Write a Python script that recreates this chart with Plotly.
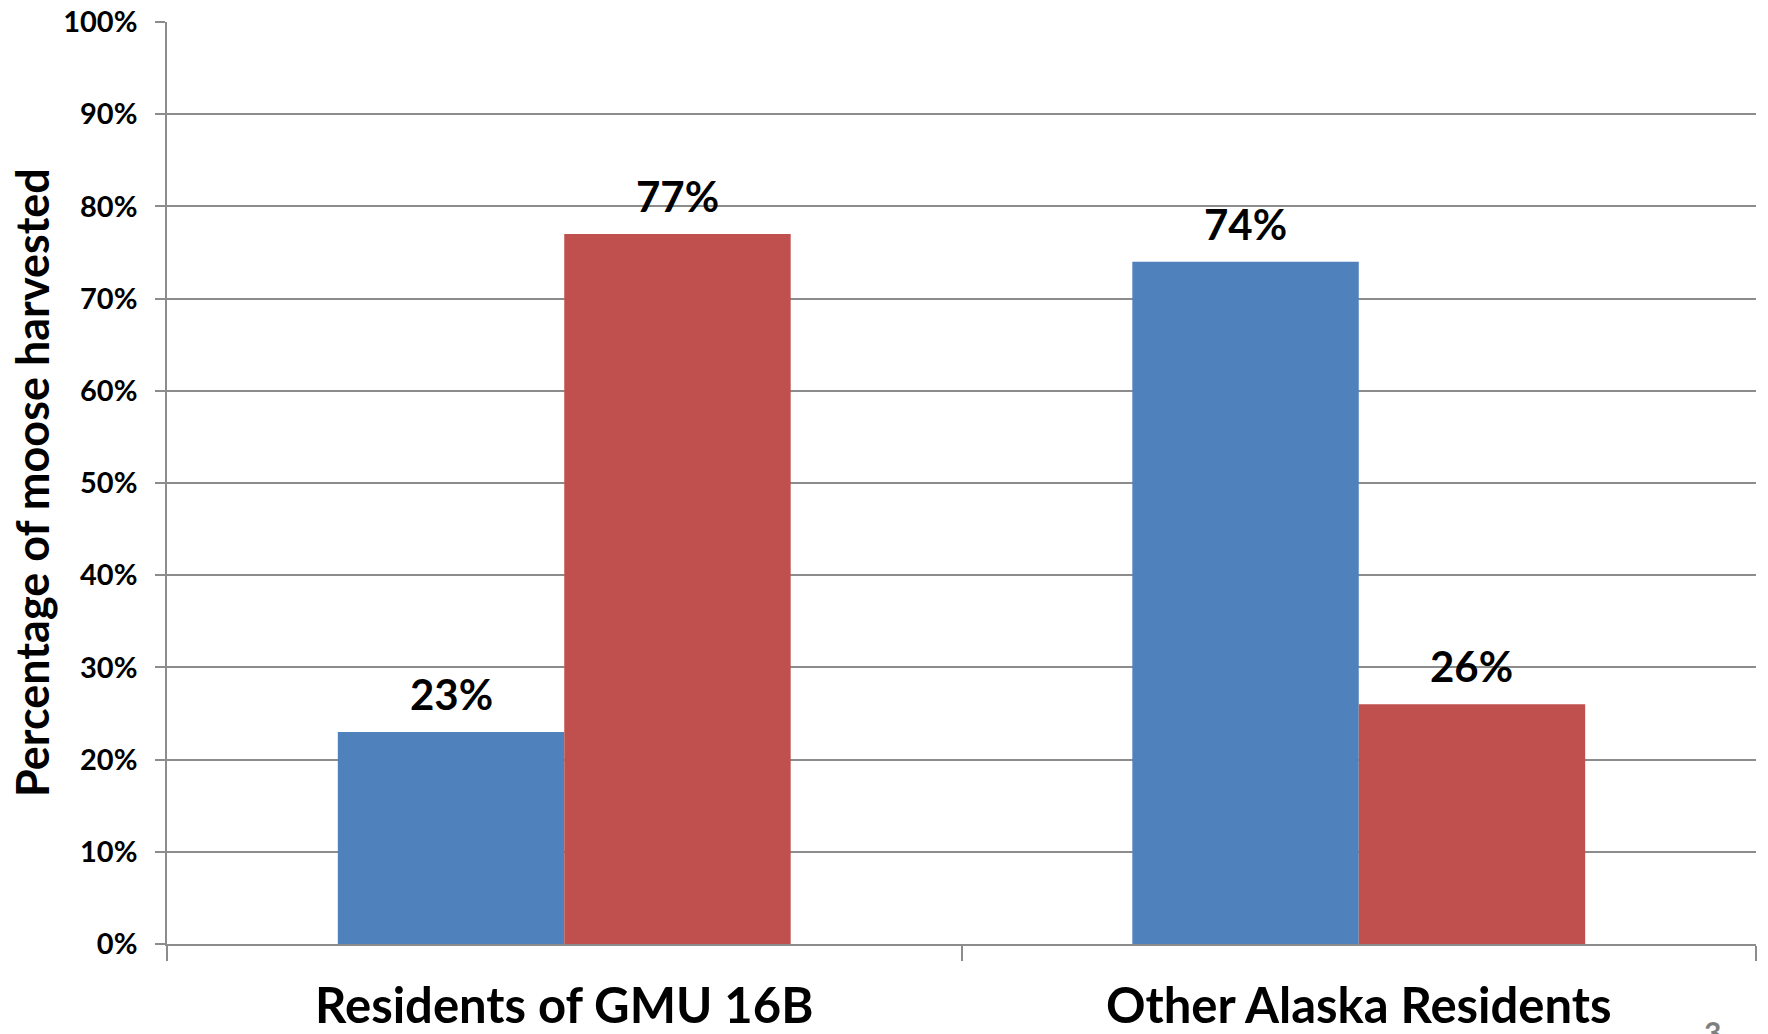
import plotly.graph_objects as go

categories = ["Residents of GMU 16B", "Other Alaska Residents"]
series_a = [23, 74]   # blue
series_b = [77, 26]   # red
tick_vals = [0, 10, 20, 30, 40, 50, 60, 70, 80, 90, 100]
tick_text = [f"{v}%" for v in tick_vals]

BLUE = "#4F81BD"
RED = "#C0504D"
GRID = "#8C8C8C"
FONT = "Lato"

fig = go.Figure()
fig.add_trace(go.Bar(x=categories, y=series_a, marker=dict(color=BLUE, line=dict(width=0)), name="A"))
fig.add_trace(go.Bar(x=categories, y=series_b, marker=dict(color=RED, line=dict(width=0)), name="B"))

W, H = 1768, 1034
ml, mr, mt, mb = 167, 12, 22, 90
bargap = 0.43
plot_w = W - ml - mr
plot_h = H - mt - mb
cat_w = plot_w / len(categories)
bar_w = cat_w * (1 - bargap) / 2

for i, c in enumerate(categories):
    for vals, sgn in ((series_a, -1), (series_b, 1)):
        fig.add_annotation(x=c, y=vals[i], xref="x", yref="y", text=f"<b>{vals[i]}%</b>",
                           showarrow=False, xshift=sgn * bar_w / 2, yshift=38,
                           yanchor="middle", font=dict(family=FONT, size=42, color="#000000"))

# slide page number, partly cut at the bottom edge like the reference
fig.add_annotation(x=(1702 - ml) / plot_w, y=-(1012 - (H - mb)) / plot_h, xref="paper", yref="paper",
                   text="<b>3</b>", showarrow=False, xanchor="left", yanchor="top",
                   font=dict(family=FONT, size=30, color="#7F7F7F"))

# y-axis title as rotated annotation
fig.add_annotation(x=-(167 - 32) / plot_w, y=0.5, xref="paper", yref="paper",
                   text="<b>Percentage of moose harvested</b>", textangle=-90, showarrow=False,
                   xanchor="center", yanchor="middle",
                   font=dict(family=FONT, size=45, color="#000000"))

fig.update_layout(
    width=W, height=H,
    margin=dict(l=ml, r=mr, t=mt, b=mb, autoexpand=False),
    barmode="group", bargap=bargap, bargroupgap=0,
    showlegend=False,
    plot_bgcolor="white", paper_bgcolor="white",
    font=dict(family=FONT, color="#000000"),
    xaxis=dict(
        automargin=False,
        showline=True, linecolor=GRID, linewidth=1.5,
        ticks="outside", tickson="boundaries", ticklen=15, tickcolor=GRID, tickwidth=1.5,
        tickfont=dict(family=FONT, size=49, color="#000000"),
        ticklabelstandoff=18,
        tickprefix="<b>", ticksuffix="</b>",
        showgrid=False,
    ),
    yaxis=dict(
        automargin=False,
        range=[0, 100], tickvals=tick_vals, ticktext=[f"<b>{t}</b>" for t in tick_text],
        showline=True, linecolor=GRID, linewidth=1.5,
        ticks="outside", ticklen=10, tickcolor=GRID, tickwidth=1.5,
        showgrid=True, gridcolor=GRID, gridwidth=1.5,
        tickfont=dict(family=FONT, size=29, color="#000000"),
        ticklabelstandoff=12,
        zeroline=False,
    ),
)

# remove the default page margin so the figure fills the window exactly
fig.write_html("out.html", config={"displayModeBar": False},
               post_script="document.body.style.margin='0';document.body.style.overflow='hidden';")
